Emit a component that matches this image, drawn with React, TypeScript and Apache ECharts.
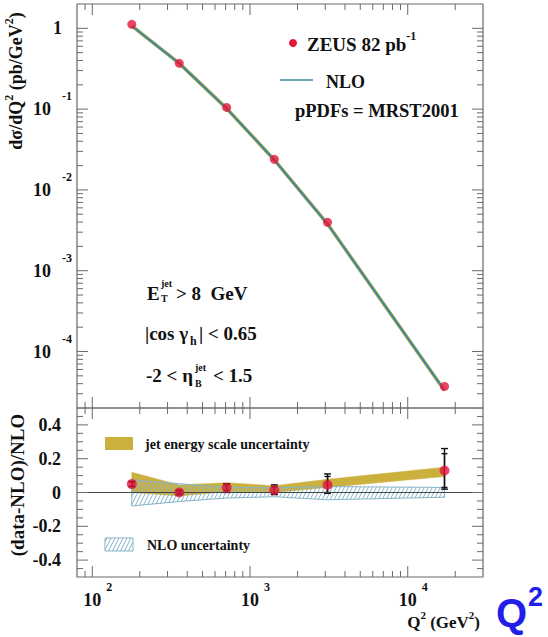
import { useEffect, useRef } from 'react';
import * as echarts from 'echarts';

// ---- data ----
const Q2 = [178, 356, 711, 1426, 3100, 17100];
const XSEC_DATA = [1.12, 0.369, 0.105, 0.0239, 0.00397, 3.7e-5];
const XSEC_NLO = [1.07, 0.368, 0.102, 0.0235, 0.00379, 3.3e-5];
const RATIO = [0.05, 0.0, 0.028, 0.015, 0.045, 0.13];
const STAT_LO = [0.038, -0.01, 0.01, -0.004, 0.0, 0.03];
const STAT_HI = [0.062, 0.01, 0.045, 0.034, 0.095, 0.23];
const TOT_LO = [0.034, -0.014, 0.0, -0.012, -0.005, 0.02];
const TOT_HI = [0.066, 0.014, 0.052, 0.045, 0.11, 0.26];
const JES_LO = [0.0, -0.02, 0.005, 0.0, 0.03, 0.095];
const JES_HI = [0.12, 0.045, 0.058, 0.04, 0.078, 0.15];
const NLOUNC_LO = [-0.08, -0.053, -0.033, -0.025, -0.043, -0.028];
const NLOUNC_HI = [0.075, 0.052, 0.03, 0.028, 0.035, 0.03];

// ---- axis ticks ----
const X_MIN = 80;
const X_MAX = 30000;
const Y_TOP_MIN = 2e-5;
const Y_TOP_MAX = 2;
const X_DECADES = [100, 1000, 10000];
const Y_TOP_DECADES = [1e-4, 1e-3, 1e-2, 1e-1, 1];
const Y_BOT_LABELS = [-0.4, -0.2, 0, 0.2, 0.4];

const SERIF = '"Liberation Serif", "DejaVu Serif", serif';
const SANS = '"Liberation Sans", Arial, sans-serif';
const INK = '#111';
const RED = '#e3153b';
const YELLOW = '#cbb03e';
const TEAL = '#3f8a9c';
const HATCH = '#86b4c9';
const FRAME = '#6a6a6a';

function minorTicks(lo: number, hi: number, kFrom: number, kTo: number) {
  const out: number[] = [];
  for (let k = kFrom; k <= kTo; k++) {
    for (let m = 2; m <= 9; m++) {
      const v = m * Math.pow(10, k);
      if (v > lo * 1.001 && v < hi * 0.999) out.push(v);
    }
  }
  return out;
}

const X_MINOR = minorTicks(X_MIN, X_MAX, 1, 4);
const Y_TOP_MINOR = minorTicks(Y_TOP_MIN, Y_TOP_MAX, -5, 0);
const Y_BOT_TICKS: number[][] = [];
for (let i = -9; i <= 9; i++) Y_BOT_TICKS.push([i * 0.05, i % 4 === 0 ? 11 : 6]);

function makeHatch() {
  const c = document.createElement('canvas');
  c.width = 4;
  c.height = 8;
  const g = c.getContext('2d');
  if (g) {
    g.strokeStyle = HATCH;
    g.lineWidth = 1;
    g.beginPath();
    g.moveTo(0, 8);
    g.lineTo(4, 0);
    g.moveTo(-1, 2);
    g.lineTo(1, -2);
    g.moveTo(3, 10);
    g.lineTo(5, 6);
    g.stroke();
  }
  return c;
}

function xTickSeries(idx: number, yRef: number) {
  const data = [...X_DECADES.map((v) => [v, yRef, 11]), ...X_MINOR.map((v) => [v, yRef, 6])];
  return {
    type: 'custom',
    xAxisIndex: idx,
    yAxisIndex: idx,
    silent: true,
    z: 8,
    encode: { x: 0, y: 1 },
    data,
    renderItem: (params: any, api: any) => {
      const cs = params.coordSys;
      const x = api.coord([api.value(0), api.value(1)])[0];
      const len = api.value(2);
      const style = { stroke: FRAME, lineWidth: 1 };
      return {
        type: 'group',
        children: [
          { type: 'line', shape: { x1: x, y1: cs.y + cs.height, x2: x, y2: cs.y + cs.height - len }, style },
          { type: 'line', shape: { x1: x, y1: cs.y, x2: x, y2: cs.y + len }, style },
        ],
      };
    },
  };
}

function yTickSeries(idx: number, xRef: number, ticks: number[][]) {
  return {
    type: 'custom',
    xAxisIndex: idx,
    yAxisIndex: idx,
    silent: true,
    z: 8,
    encode: { x: 0, y: 1 },
    data: ticks.map(([v, len]) => [xRef, v, len]),
    renderItem: (params: any, api: any) => {
      const cs = params.coordSys;
      const y = api.coord([api.value(0), api.value(1)])[1];
      const len = api.value(2);
      const style = { stroke: FRAME, lineWidth: 1 };
      return {
        type: 'group',
        children: [
          { type: 'line', shape: { x1: cs.x, y1: y, x2: cs.x + len, y2: y }, style },
          { type: 'line', shape: { x1: cs.x + cs.width, y1: y, x2: cs.x + cs.width - len, y2: y }, style },
        ],
      };
    },
  };
}

function bandSeries(lo: number[], hi: number[], style: any, z: number) {
  return {
    type: 'custom',
    xAxisIndex: 1,
    yAxisIndex: 1,
    silent: true,
    z,
    encode: { x: 0, y: [1, 2] },
    data: Q2.map((q, i) => [q, lo[i], hi[i]]),
    renderItem: (params: any, api: any) => {
      if (params.dataIndex !== 0) return null;
      const n = params.dataInsideLength || Q2.length;
      const top: number[][] = [];
      const bot: number[][] = [];
      for (let j = 0; j < n; j++) {
        top.push(api.coord([api.value(0, j), api.value(2, j)]));
        bot.push(api.coord([api.value(0, j), api.value(1, j)]));
      }
      return { type: 'polygon', shape: { points: top.concat(bot.reverse()) }, style };
    },
  };
}

function errSeries(lo: number[], hi: number[], cap: number, z: number) {
  return {
    type: 'custom',
    xAxisIndex: 1,
    yAxisIndex: 1,
    silent: true,
    z,
    encode: { x: 0, y: [1, 2] },
    data: Q2.map((q, i) => [q, lo[i], hi[i]]),
    renderItem: (_params: any, api: any) => {
      const a = api.coord([api.value(0), api.value(1)]);
      const b = api.coord([api.value(0), api.value(2)]);
      const st = { stroke: INK, lineWidth: 1.4 };
      return {
        type: 'group',
        children: [
          { type: 'line', shape: { x1: a[0], y1: a[1], x2: b[0], y2: b[1] }, style: st },
          { type: 'line', shape: { x1: a[0] - cap, y1: a[1], x2: a[0] + cap, y2: a[1] }, style: st },
          { type: 'line', shape: { x1: b[0] - cap, y1: b[1], x2: b[0] + cap, y2: b[1] }, style: st },
        ],
      };
    },
  };
}

function isDecade(v: number) {
  const l = Math.log10(v);
  return Math.abs(l - Math.round(l)) < 1e-6 ? Math.round(l) : null;
}

const LBL = { fontFamily: SERIF, fontWeight: 'bold', color: INK };
const LABEL_RICH = {
  bx: { ...LBL, fontSize: 18, lineHeight: 38, padding: [0, 0, 0, 11] },
  sx: { ...LBL, fontSize: 12, verticalAlign: 'top', padding: [0, 0, 0, 5] },
};

const TXT_RICH = (size: number) => ({
  b: { ...LBL, fontSize: size, lineHeight: Math.round(size * 1.45) },
  s: { ...LBL, fontSize: Math.round(size * 0.65), verticalAlign: 'top' },
});

function txt(x: number, y: number, text: string, size: number, extra: any = {}) {
  return {
    type: 'text',
    x,
    y,
    silent: true,
    z: 20,
    ...extra,
    style: {
      text,
      fontFamily: SERIF,
      fontWeight: 'bold',
      fontSize: size,
      fill: INK,
      align: 'left',
      verticalAlign: 'middle',
      ...(extra.style || {}),
    },
  };
}

export default function App() {
  const ref = useRef<HTMLDivElement>(null);

  useEffect(() => {
    document.body.style.margin = '0';
    if (!ref.current) return;
    const chart = echarts.init(ref.current, null, { renderer: 'svg' });
    const hatchFill = { image: makeHatch(), repeat: 'repeat', imageWidth: 4, imageHeight: 8 };

    const graphics: any[] = [
      // y-axis titles
      txt(16, 81, '{b|dσ/dQ}{s|2}{b| (pb/GeV}{s|2}{b|)}', 18, {
        rotation: Math.PI / 2,
        style: { align: 'center', rich: TXT_RICH(18) },
      }),
      txt(17, 485, '(data-NLO)/NLO', 19, { rotation: Math.PI / 2, style: { align: 'center' } }),
      // x-axis title
      txt(480, 622, '{b|Q}{s|2}{b| (GeV}{s|2}{b|)}', 17, { style: { align: 'right', rich: TXT_RICH(17) } }),
      // top legend
      { type: 'circle', shape: { cx: 293, cy: 43, r: 4 }, style: { fill: RED }, silent: true, z: 20 },
      txt(307, 44, '{b|ZEUS 82 pb}{s|-1}', 19, { style: { rich: TXT_RICH(19) } }),
      { type: 'line', shape: { x1: 280, y1: 80, x2: 313, y2: 80 }, style: { stroke: '#6ea4b4', lineWidth: 2 }, silent: true, z: 20 },
      txt(326, 82, 'NLO', 18),
      txt(295, 111, 'pPDFs = MRST2001', 18.5),
      // cuts
      txt(147, 293, 'E', 19),
      txt(161, 291, 'jet\nT', 10, { style: { lineHeight: 15 } }),
      txt(176, 293, '> 8  GeV', 19),
      txt(145, 333, '|cos γ', 19),
      txt(190, 341, 'h', 12),
      txt(199, 333, '| < 0.65', 19),
      txt(146, 375, '-2 < η', 19),
      txt(195, 375, 'jet\nB', 10, { style: { lineHeight: 16 } }),
      txt(213, 375, '< 1.5', 19),
      // bottom legend
      { type: 'rect', shape: { x: 105, y: 437, width: 28, height: 13 }, style: { fill: YELLOW }, silent: true, z: 20 },
      txt(145, 444, 'jet energy scale uncertainty', 14),
      { type: 'rect', shape: { x: 105, y: 538, width: 28, height: 13 }, style: { fill: hatchFill, stroke: HATCH, lineWidth: 1 }, silent: true, z: 20 },
      txt(147, 545, 'NLO uncertainty', 14),
      // blue Q^2
      txt(496, 613, 'Q', 40, { style: { fontFamily: SANS, fill: '#1f1fe8' } }),
      txt(528, 597, '2', 27, { style: { fontFamily: SANS, fill: '#1f1fe8' } }),
    ];

    const option: any = {
      animation: false,
      backgroundColor: '#fff',
      grid: [
        { left: 77, top: 4, width: 406, height: 404, show: true, borderColor: FRAME, borderWidth: 1.2, backgroundColor: 'transparent' },
        { left: 77, top: 408, width: 406, height: 169, show: true, borderColor: FRAME, borderWidth: 1.2, backgroundColor: 'transparent' },
      ],
      xAxis: [
        {
          type: 'log', logBase: 10, gridIndex: 0, min: X_MIN, max: X_MAX,
          axisLine: { show: false }, axisTick: { show: false }, splitLine: { show: false }, axisLabel: { show: false },
        },
        {
          type: 'log', logBase: 10, gridIndex: 1, min: X_MIN, max: X_MAX,
          axisLine: { show: false }, axisTick: { show: false }, splitLine: { show: false },
          axisLabel: {
            show: true, margin: 4, rich: LABEL_RICH,
            formatter: (v: number) => {
              const e = isDecade(v);
              return e === null ? '' : `{bx|10}{sx|${e}}`;
            },
          },
        },
      ],
      yAxis: [
        {
          type: 'log', logBase: 10, gridIndex: 0, min: Y_TOP_MIN, max: Y_TOP_MAX,
          axisLine: { show: false }, axisTick: { show: false }, splitLine: { show: false }, axisLabel: { show: false },
        },
        {
          type: 'value', gridIndex: 1, min: -0.5, max: 0.5, interval: 0.1,
          axisLine: { show: false }, axisTick: { show: false }, splitLine: { show: false },
          axisLabel: {
            show: true, margin: 16, fontFamily: SERIF, fontWeight: 'bold', fontSize: 18, color: INK,
            formatter: (v: number) => {
              const hit = Y_BOT_LABELS.find((l) => Math.abs(l - v) < 1e-6);
              if (hit === undefined) return '';
              return hit === 0 ? '0' : String(hit);
            },
          },
        },
      ],
      series: [
        // top panel
        {
          type: 'line', xAxisIndex: 0, yAxisIndex: 0, data: Q2.map((q, i) => [q, XSEC_NLO[i]]),
          showSymbol: false, silent: true, lineStyle: { color: YELLOW, width: 3.6 }, z: 2,
        },
        {
          type: 'line', xAxisIndex: 0, yAxisIndex: 0, data: Q2.map((q, i) => [q, XSEC_NLO[i]]),
          showSymbol: false, silent: true, lineStyle: { color: TEAL, width: 2.2 }, z: 3,
        },
        {
          type: 'scatter', xAxisIndex: 0, yAxisIndex: 0, data: Q2.map((q, i) => [q, XSEC_DATA[i]]),
          symbolSize: 9, itemStyle: { color: RED }, silent: true, z: 5,
        },
        // bottom panel
        bandSeries(JES_LO, JES_HI, { fill: YELLOW, stroke: YELLOW, lineWidth: 0.5 }, 1),
        bandSeries(NLOUNC_LO, NLOUNC_HI, { fill: hatchFill, stroke: HATCH, lineWidth: 1 }, 2),
        errSeries(TOT_LO, TOT_HI, 3.5, 3),
        errSeries(STAT_LO, STAT_HI, 3, 3),
        {
          type: 'scatter', xAxisIndex: 1, yAxisIndex: 1, data: Q2.map((q, i) => [q, RATIO[i]]),
          symbolSize: 10, itemStyle: { color: RED }, silent: true, z: 5,
          markLine: {
            silent: true, symbol: 'none', label: { show: false },
            lineStyle: { color: '#444', width: 1, type: 'solid' },
            data: [{ yAxis: 0 }],
          },
        },
        xTickSeries(0, 1),
        xTickSeries(1, 0),
        yTickSeries(0, 1000, [...Y_TOP_DECADES.map((v) => [v, 11]), ...Y_TOP_MINOR.map((v) => [v, 6])]),
        yTickSeries(1, 1000, Y_BOT_TICKS),
      ],
      graphic: graphics,
    };

    chart.setOption(option);

    // top-panel y tick labels, placed through the log axis scale
    const labels: any[] = [];
    Y_TOP_DECADES.forEach((d) => {
      const y = chart.convertToPixel({ yAxisIndex: 0 }, d) as unknown as number;
      const e = Math.round(Math.log10(d));
      if (e === 0) {
        labels.push(txt(53, y, '1', 18));
      } else {
        labels.push(txt(33, y, '10', 18));
        labels.push(txt(62, y - 13, String(e), 12));
      }
    });
    chart.setOption({ graphic: [...graphics, ...labels] });

    return () => chart.dispose();
  }, []);

  return <div ref={ref} style={{ width: 548, height: 637 }} />;
}
